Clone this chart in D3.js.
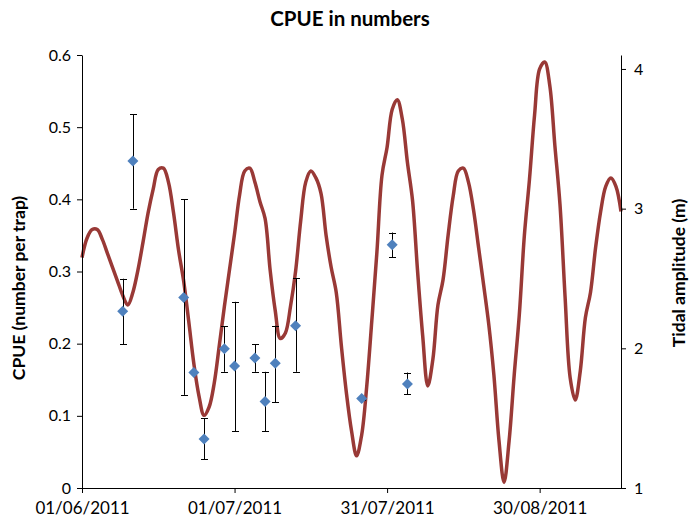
<!DOCTYPE html>
<html>
<head>
<meta charset="utf-8">
<script src="https://cdn.jsdelivr.net/npm/d3@7"></script>
<style>
  html, body { margin: 0; padding: 0; background: #fff; }
  svg { display: block; font-family: Lato, "Open Sans", sans-serif; }
</style>
</head>
<body>
<svg id="chart" width="694" height="528"></svg>
<script>
// ---- data ----
const titleText = "CPUE in numbers";
const leftAxisTitle = "CPUE (number per trap)";
const rightAxisTitle = "Tidal amplitude (m)";

const xDomain = ["2011-06-01", "2011-09-15"];
const xTickDates = ["2011-06-01", "2011-07-01", "2011-07-31", "2011-08-30"];
const leftTicks = [0, 0.1, 0.2, 0.3, 0.4, 0.5, 0.6];
const rightTicks = [1, 2, 3, 4];

// CPUE samples (mean with error bar limits)
const cpueDates = ["2011-06-09", "2011-06-11", "2011-06-21", "2011-06-23", "2011-06-25", "2011-06-29", "2011-07-01",
                   "2011-07-05", "2011-07-07", "2011-07-09", "2011-07-13", "2011-07-26", "2011-08-01", "2011-08-04"];
const cpueValues = [0.245, 0.453, 0.264, 0.160, 0.068, 0.193, 0.169, 0.180, 0.120, 0.173, 0.225, 0.124, 0.337, 0.144];
const cpueLow    = [0.199, 0.387, 0.129, null,  0.040, 0.161, 0.079, 0.161, 0.079, 0.119, 0.161, 0.122, 0.320, 0.130];
const cpueHigh   = [0.290, 0.518, 0.400, null,  0.097, 0.224, 0.258, 0.199, 0.161, 0.225, 0.291, 0.126, 0.354, 0.160];

// Daily tidal amplitude (m), starting 01/06/2011
const tideStart = "2011-06-01";
const tideValues = [
  2.65, 2.79, 2.85, 2.85, 2.78, 2.68, 2.58, 2.48, 2.38, 2.31,
  2.40, 2.56, 2.76, 2.97, 3.14, 3.28, 3.29, 3.19, 2.97, 2.70,
  2.48, 2.19, 1.89, 1.66, 1.52, 1.58, 1.75, 2.02, 2.30, 2.56,
  2.82, 3.10, 3.27, 3.29, 3.19, 3.05, 2.93, 2.56, 2.27, 2.07,
  2.11, 2.30, 2.55, 2.91, 3.19, 3.27, 3.22, 3.11, 2.81, 2.58,
  2.40, 2.02, 1.68, 1.41, 1.23, 1.38, 1.73, 2.20, 2.69, 3.24,
  3.44, 3.71, 3.78, 3.64, 3.33, 3.06, 2.55, 2.09, 1.73, 1.92,
  2.31, 2.49, 2.81, 3.09, 3.27, 3.29, 3.19, 2.99, 2.72, 2.45,
  2.17, 1.81, 1.34, 1.04, 1.34, 1.81, 2.24, 2.81, 3.21, 3.67,
  4.00, 4.05, 3.88, 3.45, 3.03, 2.37, 1.79, 1.63, 1.84, 2.22,
  2.40, 2.72, 2.98, 3.16, 3.22, 3.16, 2.98
];

// ---- drawing ----
const parse = d3.utcParse("%Y-%m-%d");
const fmt = d3.utcFormat("%d/%m/%Y");
const svg = d3.select("#chart");

const plot = { left: 82, right: 621, top: 55, bottom: 488 };

const x = d3.scaleUtc().domain(xDomain.map(parse)).range([plot.left, plot.right]);
const yL = d3.scaleLinear().domain([0, 0.6]).range([plot.bottom, plot.top]);
const yR = d3.scaleLinear().domain([1, 4.1]).range([plot.bottom, plot.top]);

const tideStartDate = parse(tideStart);
const tideData = tideValues.map((v, i) => ({ date: d3.utcDay.offset(tideStartDate, i), v }));

const cpueData = cpueDates.map((d, i) => ({
  date: parse(d), v: cpueValues[i], lo: cpueLow[i], hi: cpueHigh[i]
}));

// Title
svg.append("text")
  .attr("x", 350).attr("y", 26)
  .attr("text-anchor", "middle")
  .attr("font-size", 20.5).attr("font-weight", "bold")
  .attr("fill", "#000")
  .text(titleText);

// Tidal line
const line = d3.line()
  .x(d => x(d.date))
  .y(d => yR(d.v))
  .curve(d3.curveCatmullRom.alpha(0.5));

svg.append("path")
  .datum(tideData)
  .attr("d", line)
  .attr("fill", "none")
  .attr("stroke", "#993936")
  .attr("stroke-width", 3.5)
  .attr("stroke-linejoin", "round");

// Error bars
const eb = svg.append("g").attr("stroke", "#000").attr("stroke-width", 1);
const capW = 3.5;
cpueData.filter(d => d.lo != null).forEach(d => {
  const cx = Math.round(x(d.date)) + 0.5;
  eb.append("line").attr("x1", cx).attr("x2", cx).attr("y1", yL(d.lo)).attr("y2", yL(d.hi));
  eb.append("line").attr("x1", cx - capW).attr("x2", cx + capW).attr("y1", Math.round(yL(d.lo)) + 0.5).attr("y2", Math.round(yL(d.lo)) + 0.5);
  eb.append("line").attr("x1", cx - capW).attr("x2", cx + capW).attr("y1", Math.round(yL(d.hi)) + 0.5).attr("y2", Math.round(yL(d.hi)) + 0.5);
});

// Diamonds
const r = 5.5;
svg.append("g").selectAll("path")
  .data(cpueData)
  .join("path")
  .attr("d", d => {
    const cx = x(d.date), cy = yL(d.v);
    return `M${cx},${cy - r}L${cx + r},${cy}L${cx},${cy + r}L${cx - r},${cy}Z`;
  })
  .attr("fill", "#4F81BD");

// Axes
function styleAxis(g) {
  g.selectAll(".domain").attr("stroke", "#000");
  g.selectAll(".tick line").attr("stroke", "#000");
  g.selectAll(".tick text").attr("fill", "#000").attr("font-size", 16)
    .attr("font-family", "Lato, 'Open Sans', sans-serif");
}

svg.append("g")
  .attr("transform", `translate(${plot.left},0)`)
  .call(d3.axisLeft(yL).tickValues(leftTicks)
    .tickFormat(d => d === 0 ? "0" : d3.format(".1f")(d))
    .tickSize(5).tickSizeOuter(0).tickPadding(6))
  .call(styleAxis);

svg.append("g")
  .attr("transform", `translate(${plot.right},0)`)
  .call(d3.axisRight(yR).tickValues(rightTicks)
    .tickFormat(d3.format("d"))
    .tickSize(5).tickSizeOuter(0).tickPadding(8))
  .call(styleAxis);

svg.append("g")
  .attr("transform", `translate(0,${plot.bottom})`)
  .call(d3.axisBottom(x).tickValues(xTickDates.map(parse))
    .tickFormat(fmt)
    .tickSize(5).tickSizeOuter(0).tickPadding(9))
  .call(styleAxis)
  .call(g => g.selectAll(".tick text").attr("font-size", 17));

// Axis titles
svg.append("text")
  .attr("transform", `translate(25,288) rotate(-90)`)
  .attr("text-anchor", "middle")
  .attr("font-size", 17.5).attr("font-weight", "bold")
  .text(leftAxisTitle);

svg.append("text")
  .attr("transform", `translate(685,273) rotate(-90)`)
  .attr("text-anchor", "middle")
  .attr("font-size", 17.5).attr("font-weight", "bold")
  .text(rightAxisTitle);
</script>
</body>
</html>
